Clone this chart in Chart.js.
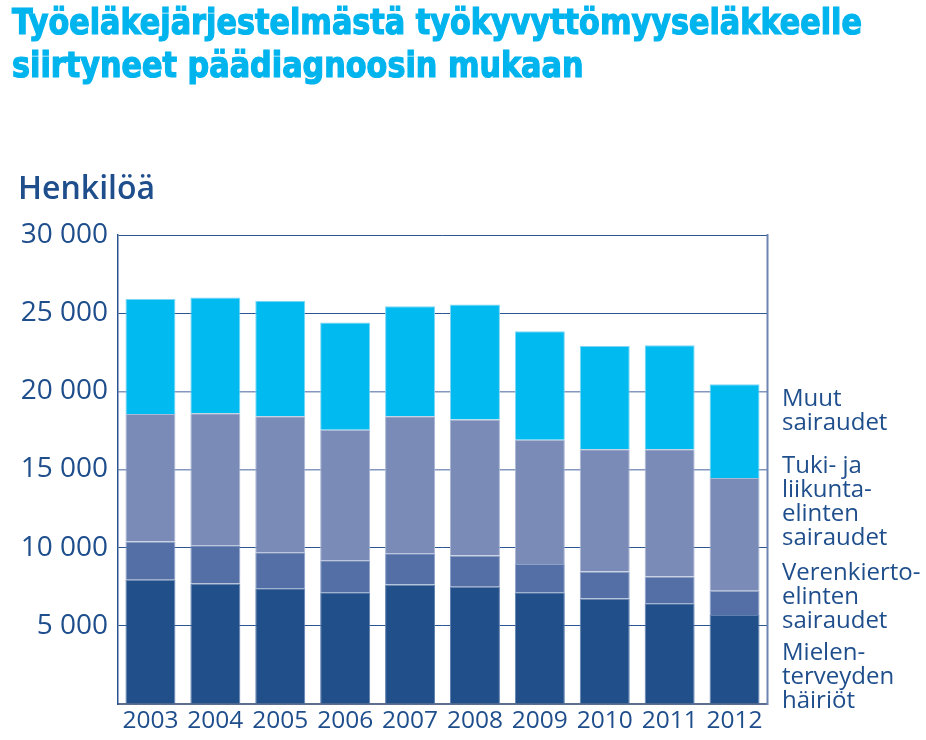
<!DOCTYPE html>
<html><head><meta charset="utf-8">
<script src="https://cdn.jsdelivr.net/npm/chart.js@4/dist/chart.umd.min.js"></script>
<style>
html,body{margin:0;padding:0;background:#fff;}
#wrap{position:relative;width:926px;height:740px;overflow:hidden;}
#c{position:absolute;left:0;top:0;}
.title{position:absolute;left:12px;top:0;font-family:"Liberation Sans Narrow","DejaVu Sans Condensed",sans-serif;font-stretch:condensed;font-weight:bold;font-size:36px;line-height:43px;color:#00B4EE;-webkit-text-stroke:1.2px #00B4EE;white-space:nowrap;transform-origin:0 0;}
.ylab{position:absolute;left:18px;top:171px;font-family:"Open Sans",sans-serif;font-weight:600;font-size:32px;line-height:32px;color:#1F4E8C;}
.leg{position:absolute;left:782px;font-family:"Open Sans",sans-serif;font-size:24px;line-height:24px;color:#1F4E8C;white-space:nowrap;}
</style></head>
<body><div id="wrap">
<canvas id="c" width="926" height="740"></canvas>
<div class="title" id="t1">Työeläkejärjestelmästä työkyvyttömyyseläkkeelle<br>siirtyneet päädiagnoosin mukaan</div>
<div class="ylab">Henkilöä</div>
<div class="leg" id="leg3" style="top:385px"></div>
<div class="leg" id="leg2" style="top:452px"></div>
<div class="leg" id="leg1" style="top:559px"></div>
<div class="leg" id="leg0" style="top:639px"></div>
</div>
<script>
const years = ['2003','2004','2005','2006','2007','2008','2009','2010','2011','2012'];
const mielenterveys = [7950, 7700, 7400, 7150, 7650, 7500, 7150, 6750, 6450, 5700];
const verenkierto   = [2450, 2450, 2300, 2050, 2000, 2000, 1800, 1730, 1700, 1550];
const tukiLiikunta  = [8150, 8450, 8700, 8350, 8750, 8700, 7950, 7820, 8150, 7200];
const muut          = [7350, 7400, 7400, 6850, 7050, 7350, 6950, 6600, 6650, 6000];
const seriesNames = [
  ['Mielen-','terveyden','häiriöt'],
  ['Verenkierto-','elinten','sairaudet'],
  ['Tuki- ja','liikunta-','elinten','sairaudet'],
  ['Muut','sairaudet']
];
const yTickValues = [5000, 10000, 15000, 20000, 25000, 30000];

seriesNames.forEach((lines,i)=>{ document.getElementById('leg'+i).innerHTML = lines.join('<br>'); });

// fit title width
const t = document.getElementById('t1');
const w = t.getBoundingClientRect().width;
t.style.transform = 'scaleX(' + (850 / w) + ')';

function fmt(v){ return yTickValues.includes(v) ? String(v).replace(/\B(?=(\d{3})+(?!\d))/g,' ') : ''; }

const frame = {
  id:'frame',
  afterDatasetsDraw(chart){
    const {ctx, chartArea:a} = chart;
    ctx.save();
    ctx.strokeStyle = '#6F86B3';
    ctx.lineWidth = 2;
    ctx.beginPath(); ctx.moveTo(a.right+0.5, a.top-1); ctx.lineTo(a.right+0.5, a.bottom+1); ctx.stroke();
    ctx.restore();
  }
};

const bw = {top:1,left:1,right:1,bottom:0};
new Chart(document.getElementById('c'), {
  type:'bar',
  data:{
    labels: years,
    datasets:[
      {label:seriesNames[0].join(' '), data:mielenterveys, backgroundColor:'#214F8A', borderColor:'#5F7FAE', borderWidth:bw, borderSkipped:false},
      {label:seriesNames[1].join(' '), data:verenkierto, backgroundColor:'#536FA6', borderColor:'#8EA2C8', borderWidth:bw, borderSkipped:false},
      {label:seriesNames[2].join(' '), data:tukiLiikunta, backgroundColor:'#7B8BB7', borderColor:'#A9B6D4', borderWidth:bw, borderSkipped:false},
      {label:seriesNames[3].join(' '), data:muut, backgroundColor:'#00BAF0', borderColor:'#7FD6F4', borderWidth:bw, borderSkipped:false}
    ]
  },
  options:{
    responsive:false, animation:false,
    layout:{padding:{top:235,right:159,left:0,bottom:0}},
    datasets:{bar:{barPercentage:0.77, categoryPercentage:1}},
    plugins:{legend:{display:false}, tooltip:{enabled:false}},
    scales:{
      x:{stacked:true,
        grid:{display:false, drawTicks:false},
        border:{display:true, color:'#5D6E8F', width:2},
        ticks:{color:'#1F4E8C', font:{family:'Open Sans', size:24.5}, padding:2, maxRotation:0},
        afterFit(s){ s.height = 36; }
      },
      y:{stacked:true, min:0, max:30000,
        grid:{drawTicks:false, color(ctx){ const v=ctx.tick&&ctx.tick.value; return (v===20000||v===15000)?'#8397BF':'#2B5591'; }, lineWidth(ctx){ const v=ctx.tick&&ctx.tick.value; return (v===20000||v===15000)?1.5:1; }},
        border:{display:true, color:'#2B5591', width:1.5},
        ticks:{stepSize:5000, color:'#1F4E8C', font:{family:'Open Sans', size:28}, padding:10, callback:fmt},
        afterFit(s){ s.width = 118; }
      }
    }
  },
  plugins:[frame]
});
</script>
</body></html>
